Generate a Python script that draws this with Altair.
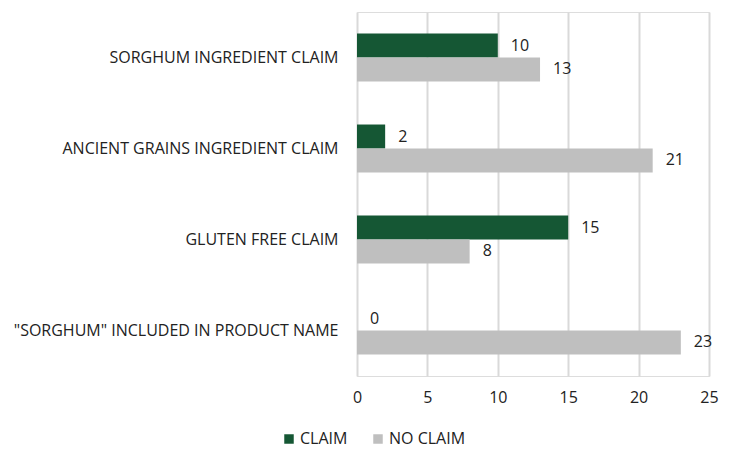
import altair as alt
import pandas as pd

categories = [
    "SORGHUM INGREDIENT CLAIM",
    "ANCIENT GRAINS INGREDIENT CLAIM",
    "GLUTEN FREE CLAIM",
    '"SORGHUM" INCLUDED IN PRODUCT NAME',
]
series = ["CLAIM", "NO CLAIM"]
claim_values = [10, 2, 15, 0]
no_claim_values = [13, 21, 8, 23]
colors = ["#155734", "#BFBFBF"]

rows = []
for c, v in zip(categories, claim_values):
    rows.append({"category": c, "series": "CLAIM", "value": v})
for c, v in zip(categories, no_claim_values):
    rows.append({"category": c, "series": "NO CLAIM", "value": v})
df = pd.DataFrame(rows)

FONT = "Open Sans"
TXT = "#222222"
FS = 16

y_enc = alt.Y(
    "category:N",
    sort=categories,
    scale=alt.Scale(paddingInner=0.473, paddingOuter=0.2365),
    axis=alt.Axis(
        title=None, domain=False, ticks=False, labelPadding=19,
        labelFont=FONT, labelFontSize=FS, labelColor=TXT, labelLimit=400,
    ),
)
x_enc = alt.X(
    "value:Q",
    scale=alt.Scale(domain=[0, 25], nice=False),
    axis=alt.Axis(
        title=None, values=[0, 5, 10, 15, 20, 25], domain=False, ticks=False,
        grid=True, gridColor="#D9D9D9", gridWidth=2, labelPadding=13,
        labelFlush=False, labelOverlap=False,
        labelFont=FONT, labelFontSize=FS, labelColor=TXT,
    ),
)
yoff = alt.YOffset("series:N", sort=series)

bars = alt.Chart(df).mark_bar(size=24).encode(
    x=x_enc,
    y=y_enc,
    yOffset=yoff,
    color=alt.Color(
        "series:N",
        sort=series,
        scale=alt.Scale(domain=series, range=colors),
        legend=alt.Legend(
            title=None, orient="none", direction="horizontal",
            legendX=-76, legendY=419, symbolType="square", symbolSize=90,
            symbolStrokeWidth=0, labelFont=FONT, labelFontSize=FS,
            labelColor=TXT, columnPadding=22, labelOffset=3,
        ),
    ),
)

labels = alt.Chart(df).mark_text(
    align="left", baseline="middle", dx=13, font=FONT, fontSize=FS, color=TXT
).encode(
    x="value:Q",
    y=alt.Y("category:N", sort=categories),
    yOffset=yoff,
    text="value:Q",
)

chart = (
    alt.layer(bars, labels)
    .properties(
        width=352,
        height=364,
        autosize=alt.AutoSizeParams(type="none"),
        padding={"left": 349, "top": 4, "right": 18, "bottom": 74},
    )
    .configure_view(stroke=None)
    .configure(background="white")
)

chart.save("out.html", embed_options={"renderer": "svg", "actions": False})
